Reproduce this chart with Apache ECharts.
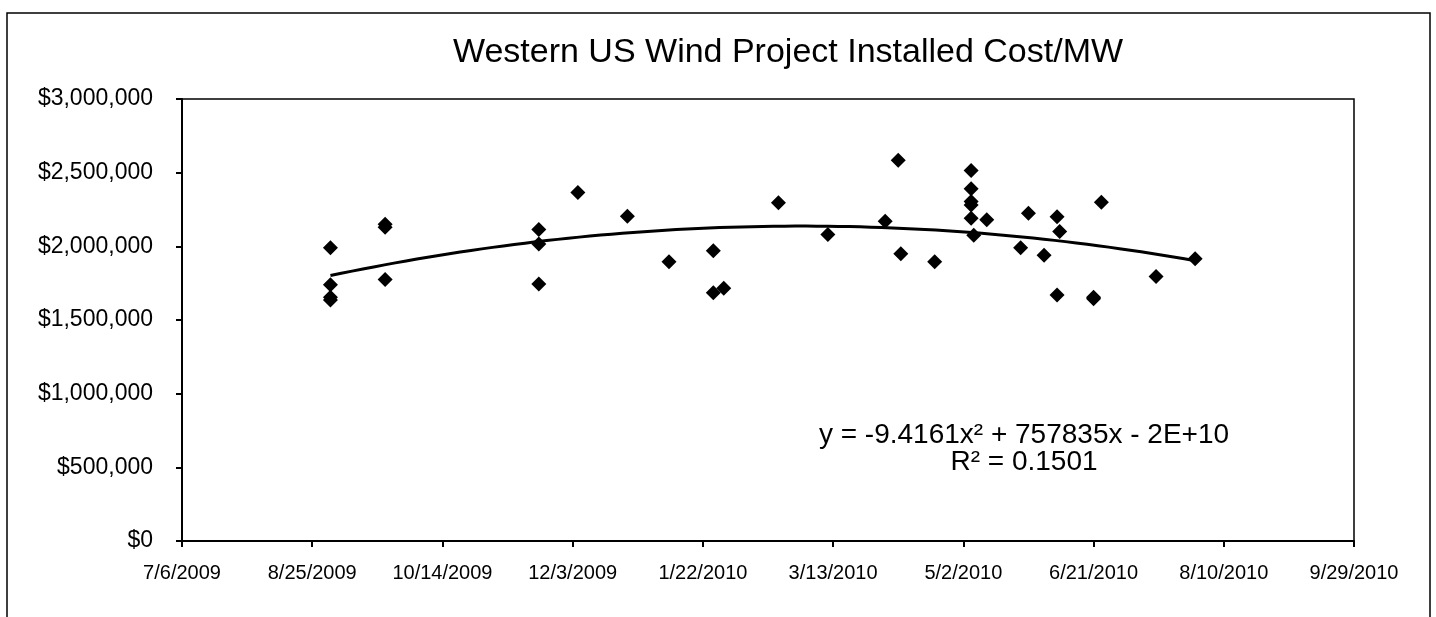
<!DOCTYPE html>
<html>
<head>
<meta charset="utf-8">
<title>Western US Wind Project Installed Cost/MW</title>
<script src="https://cdn.jsdelivr.net/npm/echarts@6/dist/echarts.min.js"></script>
<style>
  html, body { margin: 0; padding: 0; background: #fff; }
  #chart { width: 1436px; height: 617px; }
</style>
</head>
<body>
<div id="chart"></div>
<script>
// project dates and installed cost ($/MW)
var projectDates = [
  "2009-09-01", "2009-09-01", "2009-09-01", "2009-09-01",
  "2009-09-22", "2009-09-22", "2009-09-22",
  "2009-11-20", "2009-11-20", "2009-11-20",
  "2009-12-05", "2009-12-24",
  "2010-01-09", "2010-01-26", "2010-01-26", "2010-01-30",
  "2010-02-20", "2010-03-11",
  "2010-04-02", "2010-04-07", "2010-04-08", "2010-04-21",
  "2010-05-05", "2010-05-05", "2010-05-05", "2010-05-05", "2010-05-05", "2010-05-06",
  "2010-05-11", "2010-05-24", "2010-05-27",
  "2010-06-02", "2010-06-07", "2010-06-08", "2010-06-07",
  "2010-06-21", "2010-06-21", "2010-06-24",
  "2010-07-15", "2010-07-30"
];
var costPerMW = [
  1990000, 1740000, 1655000, 1635000,
  2150000, 2130000, 1775000,
  2115000, 2015000, 1745000,
  2365000, 2205000,
  1895000, 1970000, 1685000, 1715000,
  2295000, 2080000,
  2170000, 2585000, 1950000, 1895000,
  2515000, 2390000, 2305000, 2280000, 2190000, 2075000,
  2180000, 1990000, 2225000,
  1940000, 2200000, 2100000, 1670000,
  1655000, 1645000, 2300000,
  1795000, 1915000
];
// axis: Excel date serials, 7/6/2009 = 40000, one tick every 50 days
var xAxisStart = "2009-07-06";
var xAxisEnd = "2010-09-29";
var xTickDays = 50;
var yTicks = [0, 500000, 1000000, 1500000, 2000000, 2500000, 3000000];
var equationText = "y = -9.4161x\u00b2 + 757835x - 2E+10";
var rSquaredText = "R\u00b2 = 0.1501";

var EXCEL_EPOCH = Date.UTC(1899, 11, 30);
function toSerial(s) {
  var p = s.split("-");
  return (Date.UTC(+p[0], p[1] - 1, +p[2]) - EXCEL_EPOCH) / 86400000;
}
function fromSerial(n) {
  var d = new Date(EXCEL_EPOCH + n * 86400000);
  return (d.getUTCMonth() + 1) + "/" + d.getUTCDate() + "/" + d.getUTCFullYear();
}

var points = projectDates.map(function (d, i) {
  return [toSerial(d), costPerMW[i]];
});

// polynomial (order 2) trendline, least squares like Excel does
function quadFit(pts) {
  var n = pts.length, mean = 0;
  pts.forEach(function (p) { mean += p[0] / n; });
  var S = [0, 0, 0, 0, 0], Y = [0, 0, 0];
  pts.forEach(function (p) {
    var t = p[0] - mean;
    for (var k = 0; k < 5; k++) S[k] += Math.pow(t, k);
    for (var j = 0; j < 3; j++) Y[j] += Math.pow(t, j) * p[1];
  });
  var M = [[S[4], S[3], S[2]], [S[3], S[2], S[1]], [S[2], S[1], S[0]]];
  var R = [Y[2], Y[1], Y[0]];
  function det(m) {
    return m[0][0] * (m[1][1] * m[2][2] - m[1][2] * m[2][1])
         - m[0][1] * (m[1][0] * m[2][2] - m[1][2] * m[2][0])
         + m[0][2] * (m[1][0] * m[2][1] - m[1][1] * m[2][0]);
  }
  var D = det(M), coef = [];
  for (var c = 0; c < 3; c++) {
    var mc = M.map(function (row, r) {
      var copy = row.slice(); copy[c] = R[r]; return copy;
    });
    coef.push(det(mc) / D);
  }
  return function (x) {
    var t = x - mean;
    return coef[0] * t * t + coef[1] * t + coef[2];
  };
}
var trend = quadFit(points);
var xs = points.map(function (p) { return p[0]; });
var xFirst = Math.min.apply(null, xs), xLast = Math.max.apply(null, xs);
var trendLine = [];
for (var i = 0; i <= 80; i++) {
  var x = xFirst + (xLast - xFirst) * i / 80;
  trendLine.push([x, trend(x)]);
}

var chart = echarts.init(document.getElementById("chart"));
var font = "'Liberation Sans', Arial, sans-serif";
chart.setOption({
  backgroundColor: "#fff",
  animation: false,
  textStyle: { fontFamily: font, color: "#000" },
  graphic: [
    {
      type: "rect",
      shape: { x: 7, y: 13, width: 1423, height: 640 },
      style: { fill: "none", stroke: "#000", lineWidth: 1.5 },
      silent: true
    },
    {
      type: "text",
      x: 788, y: 53,
      style: {
        text: "Western US Wind Project Installed Cost/MW",
        font: "34px " + font, fill: "#000",
        align: "center", verticalAlign: "middle"
      }
    },
    {
      type: "text",
      x: 1024, y: 449,
      style: {
        text: equationText + "\n" + rSquaredText,
        font: "28px " + font, fill: "#000", lineHeight: 27,
        align: "center", verticalAlign: "middle"
      }
    }
  ],
  grid: {
    left: 182, right: 82, top: 99, bottom: 76,
    show: true, borderColor: "#000", borderWidth: 1.5
  },
  xAxis: {
    type: "value",
    min: toSerial(xAxisStart),
    max: toSerial(xAxisEnd),
    interval: xTickDays,
    axisLine: { lineStyle: { color: "#000", width: 2 } },
    axisTick: { show: true, length: 6, lineStyle: { color: "#000", width: 2 } },
    axisLabel: {
      color: "#000", fontSize: 20, margin: 22, fontFamily: font,
      formatter: function (v) { return fromSerial(v); }
    },
    splitLine: { show: false }
  },
  yAxis: {
    type: "value",
    min: yTicks[0],
    max: yTicks[yTicks.length - 1],
    interval: yTicks[1] - yTicks[0],
    axisLine: { show: true, lineStyle: { color: "#000", width: 2 } },
    axisTick: { show: true, length: 6, lineStyle: { color: "#000", width: 2 } },
    axisLabel: {
      color: "#000", fontSize: 23, margin: 29, fontFamily: font,
      formatter: function (v) { return "$" + v.toLocaleString("en-US"); }
    },
    splitLine: { show: false }
  },
  series: [
    {
      name: "Cost/MW",
      type: "scatter",
      data: points,
      symbol: "diamond",
      symbolSize: 15,
      itemStyle: { color: "#000", opacity: 1 }
    },
    {
      name: "Poly. (Cost/MW)",
      type: "line",
      data: trendLine,
      showSymbol: false,
      smooth: false,
      lineStyle: { color: "#000", width: 3 }
    }
  ]
});
</script>
</body>
</html>
